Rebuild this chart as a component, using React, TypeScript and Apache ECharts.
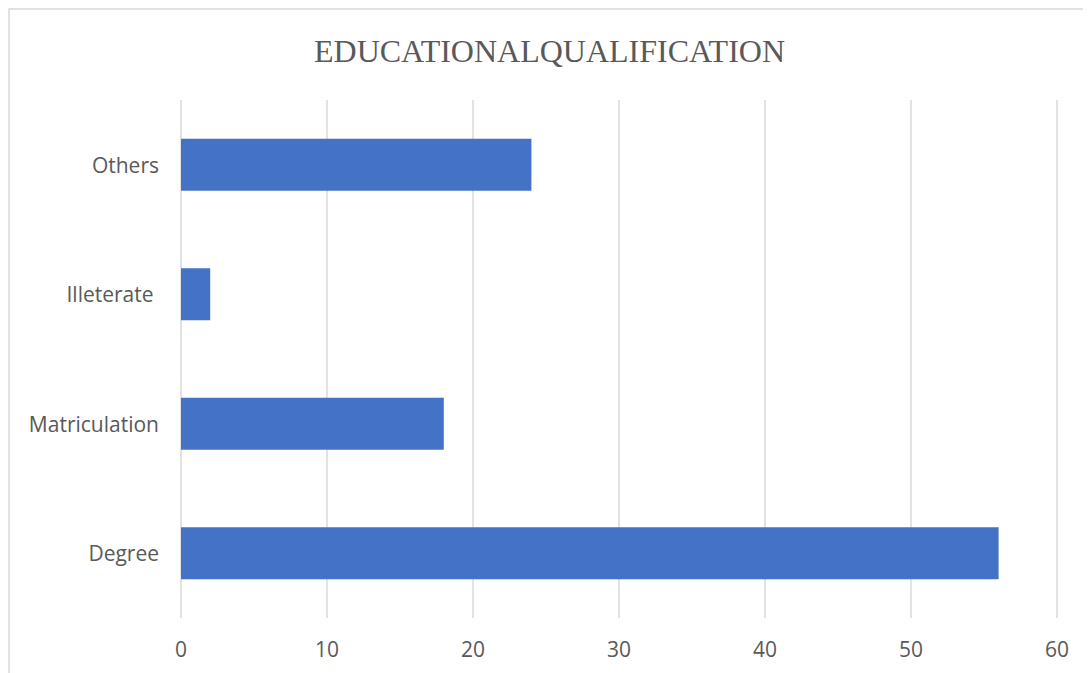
import React, { useEffect, useRef } from "react";
import * as echarts from "echarts";

// Category labels, bottom to top
const categories = ["Degree", "Matriculation", "Illeterate ", "Others"];
const counts = [56, 18, 2, 24];
const xTicks = { min: 0, max: 60, interval: 10 };

export default function App() {
  const ref = useRef<HTMLDivElement>(null);

  useEffect(() => {
    if (!ref.current) return;
    const chart = echarts.init(ref.current, null, { renderer: "svg" });
    chart.setOption({
      animation: false,
      backgroundColor: "#ffffff",
      title: {
        text: "EDUCATIONALQUALIFICATION",
        left: "center",
        top: 22,
        textStyle: {
          fontFamily: "Liberation Serif",
          fontWeight: "normal",
          fontSize: 32,
          color: "#595959",
        },
      },
      graphic: [
        {
          type: "rect",
          shape: { x: 1, y: 1, width: 1200, height: 800 },
          style: { fill: "none", stroke: "#d9d9d9", lineWidth: 1.5 },
          silent: true,
        },
      ],
      grid: { left: 173, right: 34, top: 92, bottom: 55 },
      xAxis: {
        type: "value",
        min: xTicks.min,
        max: xTicks.max,
        interval: xTicks.interval,
        axisLine: { show: false },
        axisTick: { show: false },
        axisLabel: {
          margin: 20,
          fontFamily: "Open Sans",
          fontSize: 21,
          color: "#595959",
        },
        splitLine: { show: true, lineStyle: { color: "#d9d9d9", width: 1.5 } },
      },
      yAxis: {
        type: "category",
        data: categories,
        axisLine: { show: false },
        axisTick: { show: false },
        axisLabel: {
          margin: 22,
          fontFamily: "Open Sans",
          fontSize: 21,
          color: "#595959",
        },
      },
      series: [
        {
          type: "bar",
          data: counts,
          barWidth: 52,
          itemStyle: { color: "#4472c4" },
        },
      ],
    });
    return () => chart.dispose();
  }, []);

  return <div ref={ref} style={{ width: 1083, height: 665 }} />;
}
